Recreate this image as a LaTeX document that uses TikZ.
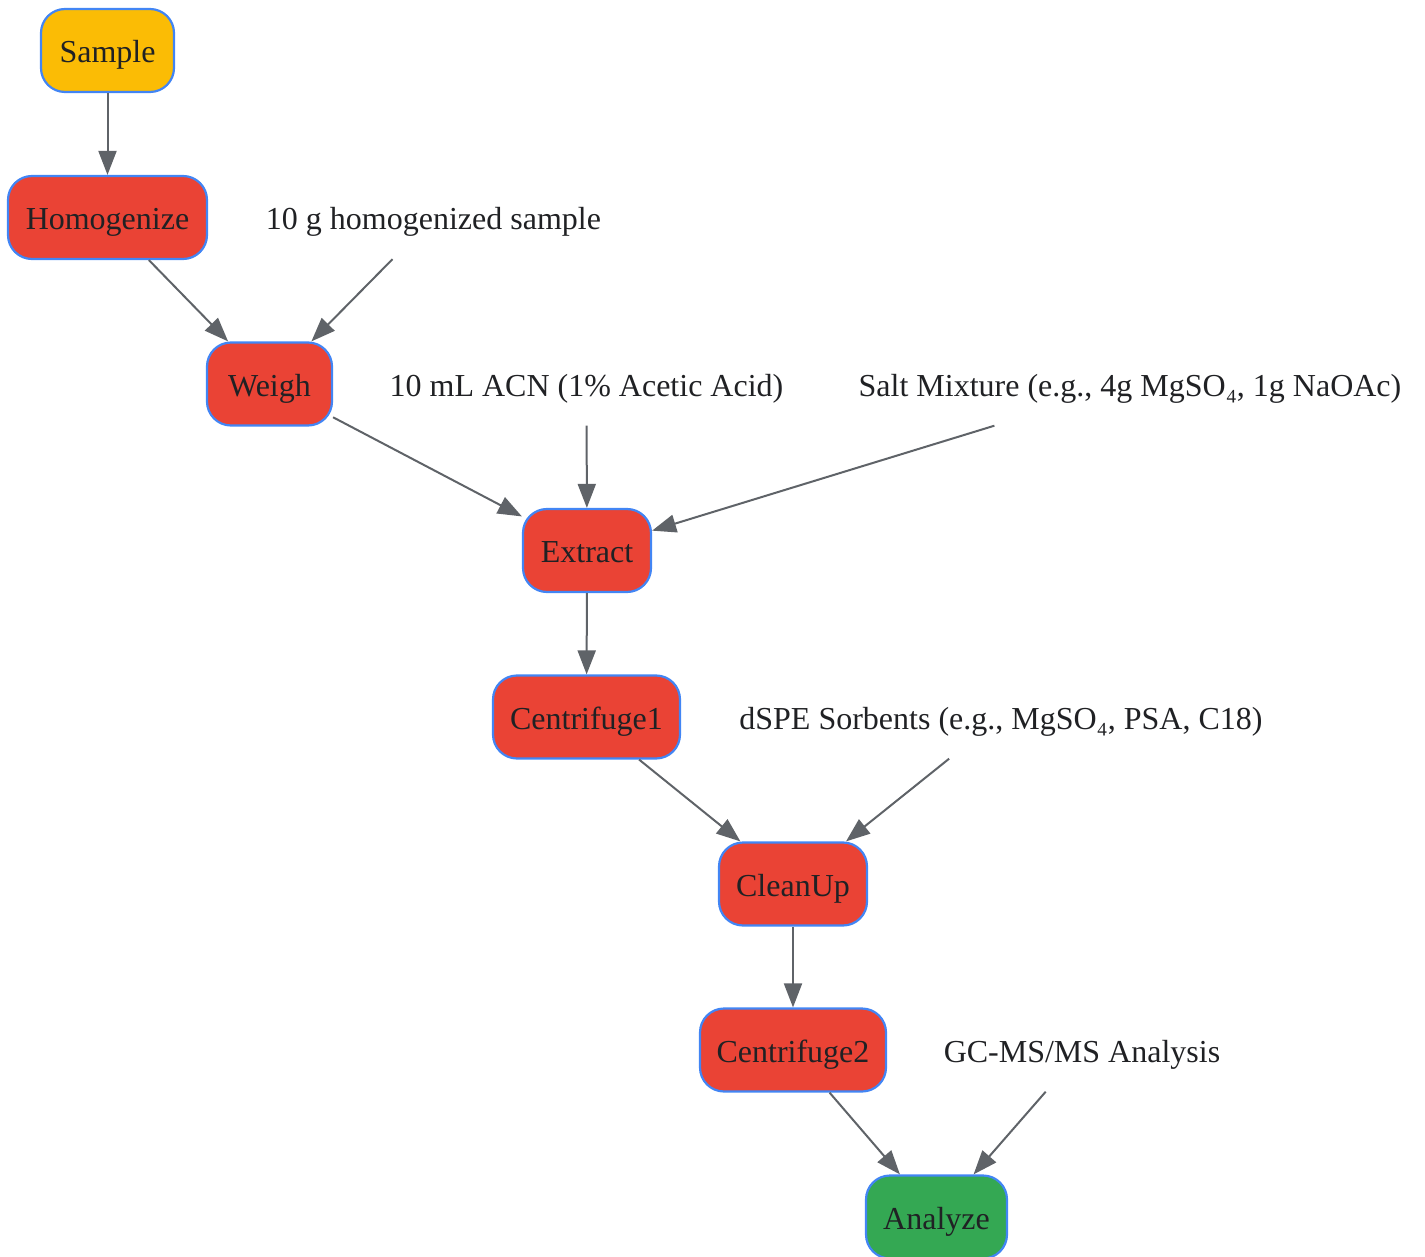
\documentclass[tikz,border=0pt]{standalone}
\usepackage{fontspec}
\setmainfont{Liberation Serif}
\usetikzlibrary{arrows.meta}
\definecolor{gyellow}{HTML}{FBBC05}
\definecolor{gred}{HTML}{EA4335}
\definecolor{ggreen}{HTML}{34A853}
\definecolor{gblue}{HTML}{4285F4}
\definecolor{edgegray}{HTML}{5F6368}
\definecolor{txt}{HTML}{202124}
\tikzset{
  proc/.style={draw=gblue, line width=2.2pt, rounded corners=24pt, minimum height=83pt,
    inner sep=0pt, text height=28pt, text depth=4pt, text=txt, font=\fontsize{32}{38}\selectfont},
  plain/.style={minimum height=83pt, inner sep=0pt, text height=28pt, text depth=4pt,
    text=txt, font=\fontsize{32}{38}\selectfont},
  conn/.style={draw=edgegray, line width=2pt, -{Triangle[length=24pt,width=18pt]}}
}
\begin{document}
\begin{tikzpicture}[x=1pt,y=-1pt]
\useasboundingbox (0,0) rectangle (1425,1257);
\node[proc, fill=gyellow, minimum width=133pt] (sample) at (107.5,50.5) {Sample};
\node[proc, fill=gred, minimum width=199pt] (homog) at (107.5,217.5) {Homogenize};
\node[proc, fill=gred, minimum width=125pt] (weigh) at (269.5,384) {Weigh};
\node[proc, fill=gred, minimum width=128pt] (extract) at (587,550.5) {Extract};
\node[proc, fill=gred, minimum width=187pt] (cent1) at (586.5,717) {Centrifuge1};
\node[proc, fill=gred, minimum width=148pt] (clean) at (793,884) {CleanUp};
\node[proc, fill=gred, minimum width=186pt] (cent2) at (793,1050) {Centrifuge2};
\node[proc, fill=ggreen, minimum width=141pt] (analyze) at (936.5,1217) {Analyze};

\node[plain] (l1) at (433.5,217.5) {10 g homogenized sample};
\node[plain] (l2) at (586.5,384) {10 mL ACN (1\% Acetic Acid)};
\node[plain] (l3) at (1130,384) {Salt Mixture (e.g., 4g MgSO₄, 1g NaOAc)};
\node[plain] (l4) at (1001,717) {dSPE Sorbents (e.g., MgSO₄, PSA, C18)};
\node[plain] (l5) at (1082,1050) {GC-MS/MS Analysis};

\draw[conn] (sample) -- (homog);
\draw[conn] (homog) -- (weigh);
\draw[conn] (l1) -- (weigh);
\draw[conn] (weigh) -- (extract);
\draw[conn] (l2) -- (extract);
\draw[conn] (l3) -- (extract);
\draw[conn] (extract) -- (cent1);
\draw[conn] (cent1) -- (clean);
\draw[conn] (l4) -- (clean);
\draw[conn] (clean) -- (cent2);
\draw[conn] (cent2) -- (analyze);
\draw[conn] (l5) -- (analyze);
\end{tikzpicture}
\end{document}
